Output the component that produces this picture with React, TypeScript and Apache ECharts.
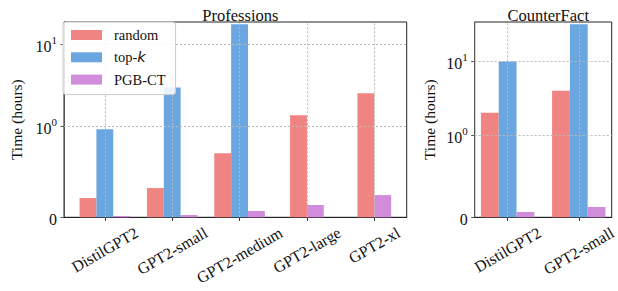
import React, { useEffect, useRef } from "react";
import * as echarts from "echarts";

// ---- data ----
const profCategories = ["DistilGPT2", "GPT2-small", "GPT2-medium", "GPT2-large", "GPT2-xl"];
const profRandom: (number | null)[] = [0.211, 0.321, 0.704, 1.36, 2.53];
const profTopK: (number | null)[] = [0.967, 2.97, 17.6, null, null];
const profPGB: (number | null)[] = [0.014, 0.025, 0.069, 0.135, 0.244];

const cfCategories = ["DistilGPT2", "GPT2-small"];
const cfRandom: (number | null)[] = [2.03, 4.02];
const cfTopK: (number | null)[] = [10.0, 32.0];
const cfPGB: (number | null)[] = [0.065, 0.126];

const seriesNames = ["random", "top-k", "PGB-CT"];
const seriesColors = ["#F08482", "#6AA6E0", "#D28CDC"];
const yTickValues = [0, 1, 10];
const yTickLabels = ["{b|0}", "{b|10}{sup|0}", "{b|10}{sup|1}"];
const profYMax = 18.7;
const cfYMax = 34.4;

// ---- helpers ----
const K = 1 / (1 - 1 / 10);
const symlog = (v: number) => (v <= 1 ? v * K : K + Math.log10(v));
const BAR_W = 0.25;
const FONT = "Liberation Serif";
const XFS = 16;
const GRID_LINE = { color: "#bbb", type: [2, 2] as any, width: 1 };

let measureCtx: CanvasRenderingContext2D | null = null;
function textWidth(s: string, size: number) {
  if (!measureCtx) measureCtx = document.createElement("canvas").getContext("2d");
  if (!measureCtx) return s.length * size * 0.5;
  measureCtx.font = `${size}px "${FONT}"`;
  return measureCtx.measureText(s).width;
}

function layoutBars(groups: (number | null)[][], nCat: number) {
  const out: [number, number][][] = groups.map(() => []);
  let lo = Infinity;
  let hi = -Infinity;
  for (let c = 0; c < nCat; c++) {
    const present = groups.map((g, s) => (g[c] != null ? s : -1)).filter((s) => s >= 0);
    present.forEach((s, j) => {
      const x = c + (j - (present.length - 1) / 2) * BAR_W;
      out[s].push([x, symlog(groups[s][c] as number)]);
      lo = Math.min(lo, x - BAR_W / 2);
      hi = Math.max(hi, x + BAR_W / 2);
    });
  }
  const m = 0.05 * (hi - lo);
  return { data: out, min: lo - m, max: hi + m };
}

const grids = [
  { left: 64, top: 22, width: 342.7, height: 195.3 },
  { left: 474.7, top: 22, width: 137, height: 195.3 },
];

export default function App() {
  const ref = useRef<HTMLDivElement>(null);
  useEffect(() => {
    if (!ref.current) return;
    const chart = echarts.init(ref.current, null, { renderer: "svg" });
    const plots = [
      { cats: profCategories, groups: [profRandom, profTopK, profPGB], ymax: profYMax, title: "Professions" },
      { cats: cfCategories, groups: [cfRandom, cfTopK, cfPGB], ymax: cfYMax, title: "CounterFact" },
    ];
    const xAxis: any[] = [];
    const yAxis: any[] = [];
    const series: any[] = [];
    const title: any[] = [];
    plots.forEach((p, i) => {
      const lay = layoutBars(p.groups, p.cats.length);
      const g = grids[i];
      const pxPerUnit = g.width / (lay.max - lay.min);
      const pxW = BAR_W * pxPerUnit;
      const catIdx = p.cats.map((_, k) => k);
      const yTicks = yTickValues.map(symlog);

      xAxis.push({
        type: "value",
        gridIndex: i,
        min: lay.min,
        max: lay.max,
        axisLine: { show: true, onZero: false, lineStyle: { color: "#222", width: 1 } },
        axisTick: { show: true, length: 3.5, customValues: catIdx, lineStyle: { color: "#222" } },
        axisLabel: { show: false },
        splitLine: { show: false },
      });
      yAxis.push({
        type: "value",
        gridIndex: i,
        min: 0,
        max: symlog(p.ymax),
        name: "Time (hours)",
        nameLocation: "middle",
        nameGap: 37,
        nameTextStyle: { fontSize: 15.5, fontFamily: FONT, color: "#111" },
        axisLine: { show: true, onZero: false, lineStyle: { color: "#555", width: 1 } },
        axisTick: { show: true, length: 3.5, customValues: yTicks, lineStyle: { color: "#555" } },
        axisLabel: {
          customValues: yTicks,
          margin: 7,
          color: "#111",
          fontFamily: FONT,
          formatter: (v: number) => {
            let best = 0;
            yTicks.forEach((t, k) => {
              if (Math.abs(t - v) < Math.abs(yTicks[best] - v)) best = k;
            });
            return yTickLabels[best];
          },
          rich: {
            b: { fontSize: 16, fontFamily: FONT, color: "#111", verticalAlign: "bottom", lineHeight: 20 },
            sup: { fontSize: 11, fontFamily: FONT, color: "#111", verticalAlign: "top", lineHeight: 20 },
          },
        },
        splitLine: { show: false },
      });

      title.push({
        text: p.title,
        left: g.left + g.width / 2,
        top: 2,
        textAlign: "center",
        textStyle: { fontSize: 16.5, fontWeight: "normal", fontFamily: FONT, color: "#111" },
      });
      // horizontal grid lines (under bars)
      series.push({
        type: "line",
        xAxisIndex: i,
        yAxisIndex: i,
        data: [],
        z: 1,
        silent: true,
        markLine: {
          silent: true,
          symbol: "none",
          label: { show: false },
          lineStyle: GRID_LINE,
          data: yTicks.slice(1).map((t) => ({ yAxis: t })),
        },
      });
      lay.data.forEach((d, s) => {
        series.push({
          type: "bar",
          name: seriesNames[s],
          xAxisIndex: i,
          yAxisIndex: i,
          data: d,
          barWidth: pxW,
          barGap: "-100%",
          z: 2,
          itemStyle: { color: seriesColors[s] },
        });
      });
      // vertical grid lines (over bars)
      series.push({
        type: "line",
        xAxisIndex: i,
        yAxisIndex: i,
        data: [],
        z: 3,
        silent: true,
        markLine: {
          silent: true,
          symbol: "none",
          label: { show: false },
          lineStyle: GRID_LINE,
          data: catIdx.map((c) => ({ xAxis: c })),
        },
      });
    });

    chart.setOption({
      animation: false,
      backgroundColor: "#fff",
      title,
      grid: grids.map((g) => ({ ...g, show: true, borderColor: "#222", borderWidth: 1, backgroundColor: "transparent" })),
      xAxis,
      yAxis,
      legend: {
        data: seriesNames.map((n, s) => ({ name: n, itemStyle: { color: seriesColors[s] } })),
        orient: "vertical",
        left: 63,
        top: 22,
        z: 10,
        itemWidth: 31,
        itemHeight: 10,
        itemGap: 6.3,
        padding: [5, 10, 7, 8],
        backgroundColor: "rgba(255,255,255,0.85)",
        borderColor: "#ccc",
        borderWidth: 1,
        borderRadius: 3,
        icon: "rect",
        formatter: (n: string) => (n === "top-k" ? "{s| }{t|top-}{i|k}" : "{s| }{t|" + n + "}"),
        textStyle: {
          fontSize: 14.5,
          fontFamily: FONT,
          color: "#111",
          lineHeight: 16,
          rich: {
            s: { width: 7, fontSize: 14.5, fontFamily: FONT },
            t: { fontSize: 14.5, fontFamily: FONT, color: "#111" },
            i: { fontSize: 14.5, fontFamily: "DejaVu Sans", fontStyle: "italic", color: "#111" },
          },
        },
      },
      series,
    });

    // category tick labels: rotated 30°, centred under the tick, tops aligned (matplotlib style)
    const graphic: any[] = [];
    const ang = Math.PI / 6;
    plots.forEach((p, i) => {
      const g = grids[i];
      const bottom = g.top + g.height;
      p.cats.forEach((c, k) => {
        const px = chart.convertToPixel({ xAxisIndex: i } as any, k) as number;
        const L = textWidth(c, XFS);
        // right-aligned anchor so the text centre lands under the tick
        graphic.push({
          type: "text",
          x: px + (L / 2) * Math.cos(ang),
          y: bottom + 14 + 0.25 * L - (L / 2) * Math.sin(ang),
          rotation: ang,
          silent: true,
          z: 10,
          style: {
            text: c,
            fontSize: XFS,
            fontFamily: FONT,
            fill: "#111",
            align: "right",
            verticalAlign: "middle",
            textAlign: "right",
            textVerticalAlign: "middle",
          },
        });
      });
    });
    chart.setOption({ graphic });
    return () => chart.dispose();
  }, []);
  return <div ref={ref} style={{ position: "absolute", left: 0, top: 0, width: 618, height: 291 }} />;
}
